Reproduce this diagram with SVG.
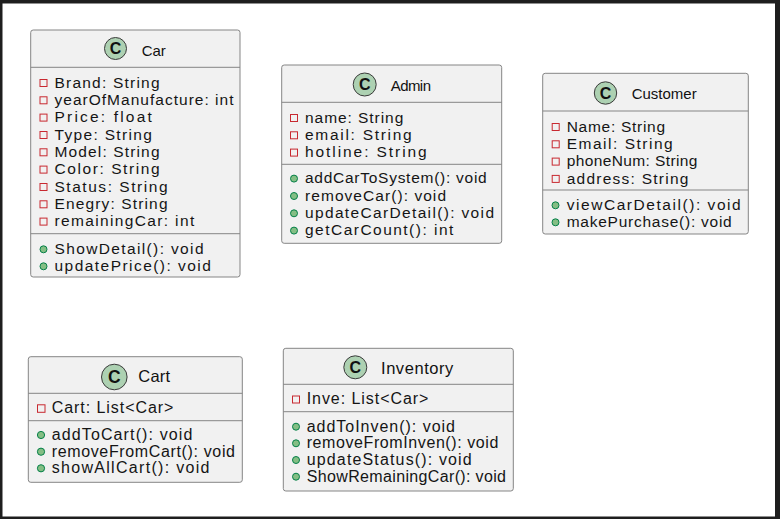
<svg xmlns="http://www.w3.org/2000/svg" width="780" height="519" viewBox="0 0 780 519">
<style>
.box{fill:#F1F1F1;stroke:#858585;stroke-width:1}
.sep{stroke:#858585;stroke-width:1}
.cc{fill:#ADD1B2;stroke:#3a3a3a;stroke-width:1}
.cl{font-family:"Liberation Sans",Arial,sans-serif;font-weight:bold;font-size:16px;fill:#111;text-anchor:middle}
.t{font-family:"Liberation Sans",Arial,sans-serif;font-size:15px;fill:#111}
.tb{font-family:"Liberation Sans",Arial,sans-serif;font-size:16.5px;fill:#111}
.m{font-family:"Liberation Sans",Arial,sans-serif;font-size:15.5px;fill:#151515}
.mb{font-family:"Liberation Sans",Arial,sans-serif;font-size:16px;fill:#151515}
.pv{fill:none;stroke:#C82930;stroke-width:1}
.pb{fill:#84BE84;stroke:#038048;stroke-width:1}
</style>
<rect x="0" y="0" width="780" height="519" fill="#1e1e1e"/>
<rect x="2.5" y="3.5" width="772.5" height="513" fill="#ffffff"/>
<g id="connectors"/>
<g id="Car">
<rect class="box" x="30.7" y="30" width="209.3" height="247" rx="2.5"/>
<line class="sep" x1="30.7" y1="67.3" x2="240" y2="67.3"/>
<line class="sep" x1="30.7" y1="233.7" x2="240" y2="233.7"/>
<circle class="cc" cx="115.5" cy="48.5" r="11"/>
<text class="cl" x="115.5" y="54.3">C</text>
<text class="t" x="141.7" y="56" textLength="24" lengthAdjust="spacing">Car</text>
<rect class="pv" x="40" y="79.5" width="7" height="7"/><text class="m" x="54.5" y="87.7" textLength="105" lengthAdjust="spacing">Brand: String</text>
<rect class="pv" x="40" y="96.8" width="7" height="7"/><text class="m" x="54.5" y="105" textLength="179" lengthAdjust="spacing">yearOfManufacture: int</text>
<rect class="pv" x="40" y="114.1" width="7" height="7"/><text class="m" x="54.5" y="122.3" textLength="97.3" lengthAdjust="spacing">Price: float</text>
<rect class="pv" x="40" y="131.5" width="7" height="7"/><text class="m" x="54.5" y="139.7" textLength="97.3" lengthAdjust="spacing">Type: String</text>
<rect class="pv" x="40" y="148.8" width="7" height="7"/><text class="m" x="54.5" y="157" textLength="105" lengthAdjust="spacing">Model: String</text>
<rect class="pv" x="40" y="166.1" width="7" height="7"/><text class="m" x="54.5" y="174.3" textLength="105" lengthAdjust="spacing">Color: String</text>
<rect class="pv" x="40" y="183.5" width="7" height="7"/><text class="m" x="54.5" y="191.7" textLength="113" lengthAdjust="spacing">Status: String</text>
<rect class="pv" x="40" y="200.8" width="7" height="7"/><text class="m" x="54.5" y="209" textLength="113" lengthAdjust="spacing">Enegry: String</text>
<rect class="pv" x="40" y="218.1" width="7" height="7"/><text class="m" x="54.5" y="226.3" textLength="139.7" lengthAdjust="spacing">remainingCar: int</text>
<circle class="pb" cx="43.5" cy="249.3" r="3.5"/><text class="m" x="54.5" y="254" textLength="149" lengthAdjust="spacing">ShowDetail(): void</text>
<circle class="pb" cx="43.5" cy="266.3" r="3.5"/><text class="m" x="54.5" y="271" textLength="156.3" lengthAdjust="spacing">updatePrice(): void</text>
</g>
<g id="Admin">
<rect class="box" x="281.7" y="65" width="220" height="178.3" rx="2.5"/>
<line class="sep" x1="281.7" y1="102.3" x2="501.7" y2="102.3"/>
<line class="sep" x1="281.7" y1="164.3" x2="501.7" y2="164.3"/>
<circle class="cc" cx="364.7" cy="84.5" r="11.5"/>
<text class="cl" x="364.7" y="90.3">C</text>
<text class="t" x="390.7" y="90.5" textLength="40.3" lengthAdjust="spacing">Admin</text>
<rect class="pv" x="290.5" y="114.5" width="7" height="7"/><text class="m" x="305" y="122.7" textLength="98.3" lengthAdjust="spacing">name: String</text>
<rect class="pv" x="290.5" y="131.8" width="7" height="7"/><text class="m" x="305" y="140" textLength="106.7" lengthAdjust="spacing">email: String</text>
<rect class="pv" x="290.5" y="149.1" width="7" height="7"/><text class="m" x="305" y="157.3" textLength="121.7" lengthAdjust="spacing">hotline: String</text>
<circle class="pb" cx="294" cy="178.6" r="3.5"/><text class="m" x="305" y="183.3" textLength="181.7" lengthAdjust="spacing">addCarToSystem(): void</text>
<circle class="pb" cx="294" cy="196" r="3.5"/><text class="m" x="305" y="200.7" textLength="141" lengthAdjust="spacing">removeCar(): void</text>
<circle class="pb" cx="294" cy="213.3" r="3.5"/><text class="m" x="305" y="218" textLength="189" lengthAdjust="spacing">updateCarDetail(): void</text>
<circle class="pb" cx="294" cy="230.6" r="3.5"/><text class="m" x="305" y="235.3" textLength="148.3" lengthAdjust="spacing">getCarCount(): int</text>
</g>
<g id="Customer">
<rect class="box" x="542.7" y="73.3" width="205.6" height="160.7" rx="2.5"/>
<line class="sep" x1="542.7" y1="111" x2="748.3" y2="111"/>
<line class="sep" x1="542.7" y1="190" x2="748.3" y2="190"/>
<circle class="cc" cx="605.5" cy="93" r="11.2"/>
<text class="cl" x="605.5" y="98.8">C</text>
<text class="t" x="631.7" y="99.3" textLength="65" lengthAdjust="spacing">Customer</text>
<rect class="pv" x="552.2" y="123.5" width="7" height="7"/><text class="m" x="566.7" y="131.7" textLength="98.3" lengthAdjust="spacing">Name: String</text>
<rect class="pv" x="552.2" y="140.8" width="7" height="7"/><text class="m" x="566.7" y="149" textLength="106" lengthAdjust="spacing">Email: String</text>
<rect class="pv" x="552.2" y="158.1" width="7" height="7"/><text class="m" x="566.7" y="166.3" textLength="130.7" lengthAdjust="spacing">phoneNum: String</text>
<rect class="pv" x="552.2" y="175.4" width="7" height="7"/><text class="m" x="566.7" y="183.6" textLength="121.7" lengthAdjust="spacing">address: String</text>
<circle class="pb" cx="555.5" cy="205.3" r="3.5"/><text class="m" x="566.7" y="210" textLength="174" lengthAdjust="spacing">viewCarDetail(): void</text>
<circle class="pb" cx="555.5" cy="222.3" r="3.5"/><text class="m" x="566.7" y="227" textLength="165" lengthAdjust="spacing">makePurchase(): void</text>
</g>
<g id="Cart">
<rect class="box" x="28.3" y="356.7" width="214" height="125.6" rx="2.5"/>
<line class="sep" x1="28.3" y1="393.3" x2="242.3" y2="393.3"/>
<line class="sep" x1="28.3" y1="420.7" x2="242.3" y2="420.7"/>
<circle class="cc" cx="114.3" cy="377" r="12.8"/>
<text class="cl" x="114.3" y="383.2" style="font-size:17.5px">C</text>
<text class="tb" x="138.3" y="381.5" textLength="31.7" lengthAdjust="spacing">Cart</text>
<rect class="pv" x="37.5" y="404.8" width="7.5" height="7.5"/><text class="mb" x="51.7" y="413.3" textLength="121.7" lengthAdjust="spacing">Cart: List&lt;Car&gt;</text>
<circle class="pb" cx="41" cy="435" r="3.6"/><text class="mb" x="51.7" y="440" textLength="140.7" lengthAdjust="spacing">addToCart(): void</text>
<circle class="pb" cx="41" cy="451.7" r="3.6"/><text class="mb" x="51.7" y="456.7" textLength="183.3" lengthAdjust="spacing">removeFromCart(): void</text>
<circle class="pb" cx="41" cy="468.3" r="3.6"/><text class="mb" x="51.7" y="473.3" textLength="157.7" lengthAdjust="spacing">showAllCart(): void</text>
</g>
<g id="Inventory">
<rect class="box" x="283.3" y="348.3" width="230" height="142.7" rx="2.5"/>
<line class="sep" x1="283.3" y1="384.3" x2="513.3" y2="384.3"/>
<line class="sep" x1="283.3" y1="411.7" x2="513.3" y2="411.7"/>
<circle class="cc" cx="355.3" cy="367.3" r="11.5"/>
<text class="cl" x="355.3" y="373.1">C</text>
<text class="tb" x="381" y="374" textLength="72.3" lengthAdjust="spacing">Inventory</text>
<rect class="pv" x="292.5" y="396" width="7" height="7"/><text class="mb" x="306.7" y="404.3" textLength="121.7" lengthAdjust="spacing">Inve: List&lt;Car&gt;</text>
<circle class="pb" cx="296" cy="426.7" r="3.5"/><text class="mb" x="306.7" y="431.7" textLength="148.3" lengthAdjust="spacing">addToInven(): void</text>
<circle class="pb" cx="296" cy="443.3" r="3.5"/><text class="mb" x="306.7" y="448.3" textLength="191.7" lengthAdjust="spacing">removeFromInven(): void</text>
<circle class="pb" cx="296" cy="460" r="3.5"/><text class="mb" x="306.7" y="465" textLength="165" lengthAdjust="spacing">updateStatus(): void</text>
<circle class="pb" cx="296" cy="476.7" r="3.5"/><text class="mb" x="306.7" y="481.7" textLength="199.3" lengthAdjust="spacing">ShowRemainingCar(): void</text>
</g>
</svg>
